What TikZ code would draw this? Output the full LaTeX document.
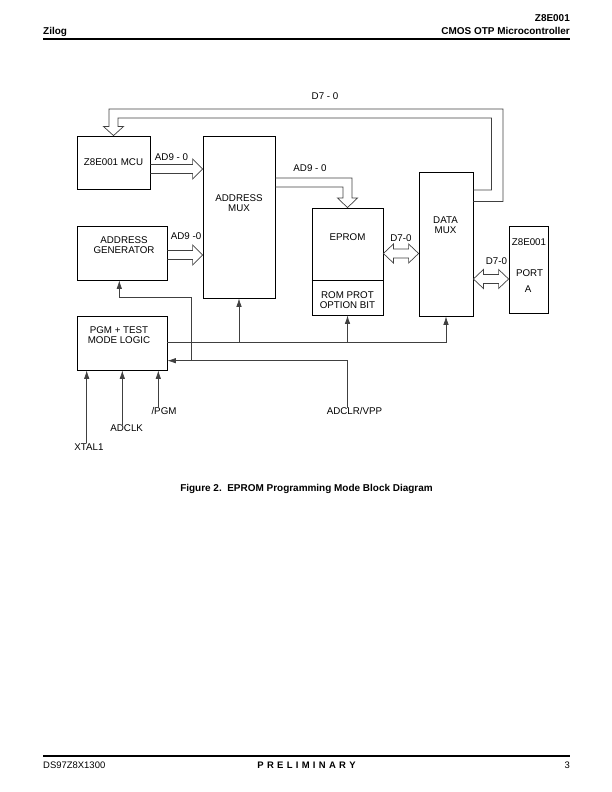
\documentclass[tikz,border=0pt]{standalone}
\usepackage{fontspec}
\setmainfont{Liberation Sans}
\usetikzlibrary{arrows.meta,calc}
\newcommand\busright[2]{\draw[bus] let \p1=(#1), \p2=(#2) in
  (\x1,\y2+4.5bp) -- (\x2-10bp,\y2+4.5bp) -- (\x2-10bp,\y2+10bp) -- (\x2,\y2)
  -- (\x2-10bp,\y2-10bp) -- (\x2-10bp,\y2-4.5bp) -- (\x1,\y2-4.5bp);}
\newcommand\busboth[2]{\draw[bus] let \p1=(#1), \p2=(#2) in
  (\x1,\y1) -- (\x1+10bp,\y1+9.5bp) -- (\x1+10bp,\y1+4.5bp) -- (\x2-10bp,\y1+4.5bp)
  -- (\x2-10bp,\y1+9.5bp) -- (\x2,\y1) -- (\x2-10bp,\y1-9.5bp) -- (\x2-10bp,\y1-4.5bp)
  -- (\x1+10bp,\y1-4.5bp) -- (\x1+10bp,\y1-9.5bp) -- cycle;}
\begin{document}
\begin{tikzpicture}[x=1bp,y=-1bp,
  box/.style={draw, line width=0.8bp, inner sep=0pt},
  txt/.style={font=\fontsize{9.8}{10.3}\selectfont, align=center, inner sep=0pt},
  hdr/.style={font=\fontsize{10}{11}\selectfont\bfseries, inner sep=0pt},
  bus/.style={draw=black!75, line width=0.7bp, line join=miter},
  ctl/.style={draw=black!75, line width=0.7bp},
  arr/.style={ctl, -{Latex[length=8.5bp,width=5.5bp]}},
]
\useasboundingbox (0,0) rectangle (612,792);

% header and footer
\node[hdr, anchor=base west] (zilog) at (43,35) {Zilog};
\node[hdr, anchor=base east] (part) at (570,22) {Z8E001};
\node[hdr, anchor=base east] (cmos) at (570,35) {CMOS OTP Microcontroller};
\draw[line width=2bp] (43,39.5) -- (570,39.5);
\draw[line width=2bp] (43,755.5) -- (570,755.5);
\node[font=\fontsize{9.5}{11}\selectfont, inner sep=0pt, anchor=base west] (ds) at (43,768) {DS97Z8X1300};
\node[font=\fontsize{9.5}{11}\selectfont\bfseries, inner sep=0pt, anchor=base] (prelim) at (306.5,768)
  {P\kern3.3bp R\kern3.3bp E\kern3.3bp L\kern3.3bp I\kern3.3bp M\kern3.3bp I\kern3.3bp N\kern3.3bp A\kern3.3bp R\kern3.3bp Y};
\node[font=\fontsize{9.5}{11}\selectfont, inner sep=0pt, anchor=base east] (pg) at (570,768) {3};
\node[hdr, anchor=base] (cap) at (306.5,491.5) {Figure 2.\ \ EPROM Programming Mode Block Diagram};

% level coordinates
\coordinate (y1) at (0,169);
\coordinate (y2) at (0,255);
\coordinate (y3a) at (0,178);
\coordinate (y3b) at (0,187);
\coordinate (y4) at (0,253.5);
\coordinate (y5) at (0,279);
\coordinate (ya) at (0,342.7);
\coordinate (yb) at (0,360.7);
\coordinate (yo) at (0,201.5);
\coordinate (yi) at (0,190);

% boxes
\node[box, txt, minimum width=73bp, minimum height=53bp] (mcu) at (113.5,162.5) {Z8E001 MCU};
\node[box, minimum width=72bp, minimum height=162bp] (amux) at (239,217) {};
\node[txt] (amuxt) at (239,203.5) {ADDRESS\\MUX};
\node[box, minimum width=90bp, minimum height=54bp] (agen) at (122,253) {};
\node[txt] (agent) at (124,245.5) {ADDRESS\\GENERATOR};
\node[box, minimum width=71bp, minimum height=107bp] (eprom) at (347.5,261.5) {};
\draw[line width=0.8bp] (eprom.west |- 0,280) -- (eprom.east |- 0,280);
\node[txt] (epromt) at (347.5,237.5) {EPROM};
\node[txt] (romprot) at (347.5,300) {ROM PROT\\OPTION BIT};
\node[box, minimum width=54bp, minimum height=144bp] (dmux) at (446,244) {};
\node[txt] (dmuxt) at (445.5,225.5) {DATA\\MUX};
\node[box, minimum width=39bp, minimum height=87bp] (port) at (528.5,269.5) {};
\node[txt] (portt1) at (529,242) {Z8E001};
\node[txt] (portt2) at (529.5,273.5) {PORT};
\node[txt] (portt3) at (528,289) {A};
\node[box, minimum width=90bp, minimum height=54bp] (pgm) at (122,343) {};
\node[txt] (pgmt) at (119,335.5) {PGM + TEST\\MODE LOGIC};

% bus arrows
\busright{mcu.east}{amux.west |- y1}
\node[txt] (l1) at (171.5,157) {AD9 - 0};
\busright{agen.east}{amux.west |- y2}
\node[txt] (l2) at (186,236) {AD9 -0};
\draw[bus] (amux.east |- y3a) -- (352,178) -- (352,198) -- (357.5,198) -- (eprom.north)
  -- (337.5,198) -- (343,198) -- (343,187) -- (amux.east |- y3b);
\node[txt] (l3) at (310,168.5) {AD9 - 0};
\draw[bus] (dmux.east |- yo) -- (503,201.5) -- (503,109) -- (109,109) -- (109,126.5)
  -- (103.5,126.5) -- (mcu.north) -- (123.5,126.5) -- (118,126.5) -- (118,118)
  -- (491.5,118) -- (491.5,190) -- (dmux.east |- yi);
\node[txt] (l4) at (325,96) {D7 - 0};
\busboth{eprom.east |- y4}{dmux.west |- y4}
\node[txt] (l5) at (401,238) {D7-0};
\busboth{dmux.east |- y5}{port.west |- y5}
\node[txt] (l6) at (496.5,261.5) {D7-0};

% control lines
\draw[arr] (pgm.east |- ya) -- (dmux.south |- ya) -- (dmux.south);
\draw[arr] (amux.south |- ya) -- (amux.south);
\draw[arr] (eprom.south |- ya) -- (eprom.south);
\node[txt] (adclr) at (354.5,411.5) {ADCLR/VPP};
\draw[arr] (eprom.south |- adclr.north) -- (eprom.south |- yb) -- (pgm.east |- yb);
\coordinate (jb) at (191.7,360.7);
\draw[arr] (jb) -- (191.7,297.3) -- ([xshift=-2.7bp]agen.south |- 0,297.3) -- ([xshift=-2.7bp]agen.south);

% inputs
\node[txt] (xtal) at (89,447) {XTAL1};
\node[txt] (adclk) at (126.7,428.5) {ADCLK};
\node[txt] (pgmin) at (164,411.5) {/PGM};
\draw[arr] ([xshift=-2.3bp]xtal.north) -- ([xshift=-2.3bp]xtal.north |- pgm.south);
\draw[arr] ([xshift=-4.4bp]adclk.north) -- ([xshift=-4.4bp]adclk.north |- pgm.south);
\draw[arr] ([xshift=-5.7bp]pgmin.north) -- ([xshift=-5.7bp]pgmin.north |- pgm.south);
\end{tikzpicture}
\end{document}
